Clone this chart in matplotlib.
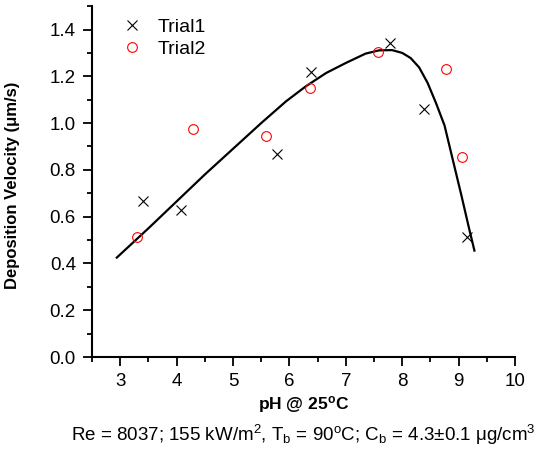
import matplotlib
matplotlib.use("Agg")
import matplotlib.pyplot as plt
from matplotlib.ticker import MultipleLocator, FormatStrFormatter

plt.rcParams['font.family'] = ['Liberation Sans', 'DejaVu Sans']
plt.rcParams['mathtext.fontset'] = 'custom'
plt.rcParams['mathtext.rm'] = 'Liberation Sans'
plt.rcParams['mathtext.bf'] = 'Liberation Sans:bold'
plt.rcParams['mathtext.default'] = 'regular'

# measured points
trial1_ph = [3.41, 4.08, 5.78, 6.38, 7.78, 8.38, 9.15]
trial1_v = [0.665, 0.629, 0.866, 1.219, 1.343, 1.06, 0.511]
trial2_ph = [3.29, 4.29, 5.58, 6.37, 7.57, 8.77, 9.06]
trial2_v = [0.511, 0.976, 0.946, 1.152, 1.303, 1.23, 0.855]

# fitted curve
fit_ph = [2.94, 3.5, 4.0, 4.5, 5.0, 5.5, 5.94, 6.29, 6.65, 7.0, 7.35, 7.59,
          7.82, 8.0, 8.15, 8.3, 8.45, 8.6, 8.75, 8.9, 9.05, 9.18, 9.28]
fit_v = [0.425, 0.55, 0.665, 0.78, 0.89, 1.0, 1.093, 1.157, 1.214, 1.257, 1.297, 1.311,
         1.312, 1.300, 1.278, 1.238, 1.172, 1.085, 0.99, 0.84, 0.69, 0.555, 0.455]

fig = plt.figure(figsize=(5.41, 4.51), dpi=100)
ax = fig.add_axes([0.170, 0.2084, 0.782, 0.778])

ax.plot(fit_ph, fit_v, color='black', lw=1.6, zorder=2)
ax.plot(trial1_ph, trial1_v, ls='none', marker='x', ms=7.5, mew=0.8,
        color='black', label='Trial1', zorder=3)
ax.plot(trial2_ph, trial2_v, ls='none', marker='o', ms=7, mew=0.8,
        mfc='none', mec='red', label='Trial2', zorder=3)

ax.set_xlim(2.5, 10)
ax.set_ylim(0, 1.5)
ax.xaxis.set_major_locator(MultipleLocator(1))
ax.xaxis.set_minor_locator(MultipleLocator(0.5))
ax.yaxis.set_major_locator(MultipleLocator(0.2))
ax.yaxis.set_minor_locator(MultipleLocator(0.1))
ax.yaxis.set_major_formatter(FormatStrFormatter('%.1f'))

for side in ['top', 'right']:
    ax.spines[side].set_visible(False)
for side in ['left', 'bottom']:
    ax.spines[side].set_linewidth(1.5)

ax.tick_params(which='major', direction='out', length=6.5, width=1.3,
               labelsize=13.5, pad=5)
ax.tick_params(which='minor', direction='out', length=3.5, width=1.3)

ax.set_ylabel('Deposition Velocity (μm/s)', fontsize=12, fontweight='bold', labelpad=12)
ax.yaxis.set_label_coords(-0.17, 0.49)
ax.set_xlabel(r'pH @ 25$^{\mathbf{o}}$C', fontsize=12.5, fontweight='bold', labelpad=3)

fig.text(0.56, 0.022, r'Re = 8037; 155 kW/m$^2$, T$_b$ = 90$^o$C; C$_b$ = 4.3±0.1 μg/cm$^3$',
         ha='center', fontsize=13.5)

ax.legend(loc='upper left', bbox_to_anchor=(0.071, 0.965), frameon=False,
          fontsize=14, handlelength=1.0, handletextpad=0.85, labelspacing=0.2,
          borderpad=0, borderaxespad=0)

fig.savefig('out.png', dpi=100)
